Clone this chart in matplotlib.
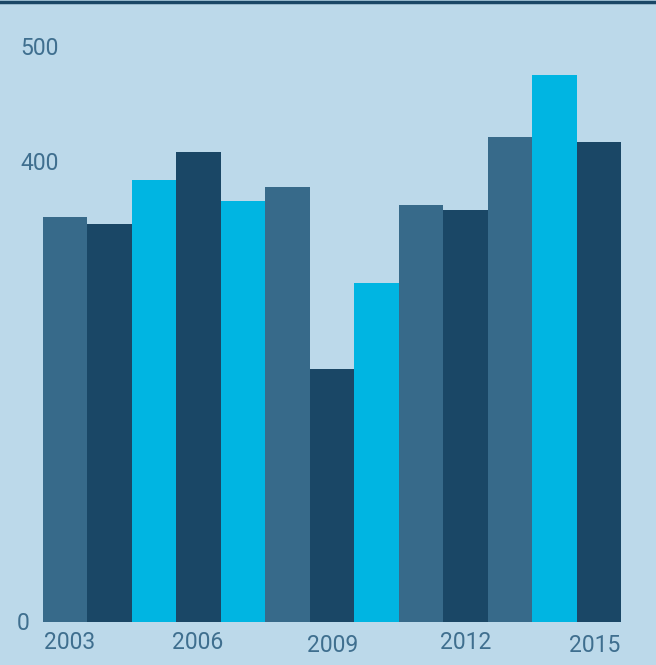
import matplotlib
matplotlib.use("Agg")
import matplotlib.pyplot as plt
from matplotlib.transforms import blended_transform_factory

years = list(range(2003, 2016))
values = [352, 346, 384, 409, 366, 378, 220, 295, 363, 358, 422, 476, 417]
palette = ["#376a8a", "#1a4766", "#00b5e2"]
# colour sequence by year
bar_colors = [palette[i] for i in [0, 1, 2, 1, 2, 0, 1, 2, 0, 1, 0, 2, 1]]
ytick_vals = [0, 400, 500]
xtick_years = [2003, 2006, 2009, 2012, 2015]

bg = "#bcd9ea"
txt = "#3f6f8f"
plt.rcParams["font.family"] = ["Roboto", "DejaVu Sans"]

W, H = 656, 665
fig = plt.figure(figsize=(W / 100, H / 100), dpi=100, facecolor=bg)
ax = fig.add_axes([43 / W, 43 / H, 578 / W, 619 / H], facecolor=bg)

ax.bar(years, values, width=1.0, color=bar_colors, linewidth=0)
ax.set_xlim(years[0] - 0.5, years[-1] + 0.5)
ax.set_ylim(0, 619 / 1.15)
ax.set_xticks([])
ax.set_yticks([])
for s in ax.spines.values():
    s.set_visible(False)

# y labels sit at the left edge of the figure
tr = blended_transform_factory(fig.transFigure, ax.transData)
for v in ytick_vals:
    ax.text(17 / W if v == 0 else 20 / W, v - 1, str(v), transform=tr,
            ha="left", va="center", fontsize=16.5, color=txt)

# year labels below the bars, with slight offsets
offsets = {2003: (0.1, 0), 2006: (-0.03, 0), 2009: (0.02, -2.5),
           2012: (0.0, 0), 2015: (-0.1, -2.5)}
tr2 = blended_transform_factory(ax.transData, ax.transAxes)
for y in xtick_years:
    dx, dy = offsets[y]
    ax.annotate(str(y), xy=(y + dx, 0), xycoords=tr2, xytext=(0, -14.5 + dy),
                textcoords="offset points", ha="center", va="center",
                fontsize=16.5, color=txt, annotation_clip=False)

# dark rule along the top edge
fig.add_artist(plt.Line2D([0, 1], [1 - 1.5 / H, 1 - 1.5 / H],
                          transform=fig.transFigure, color="#1a4766", linewidth=2.5))

fig.savefig("out.png", dpi=100, facecolor=bg)
